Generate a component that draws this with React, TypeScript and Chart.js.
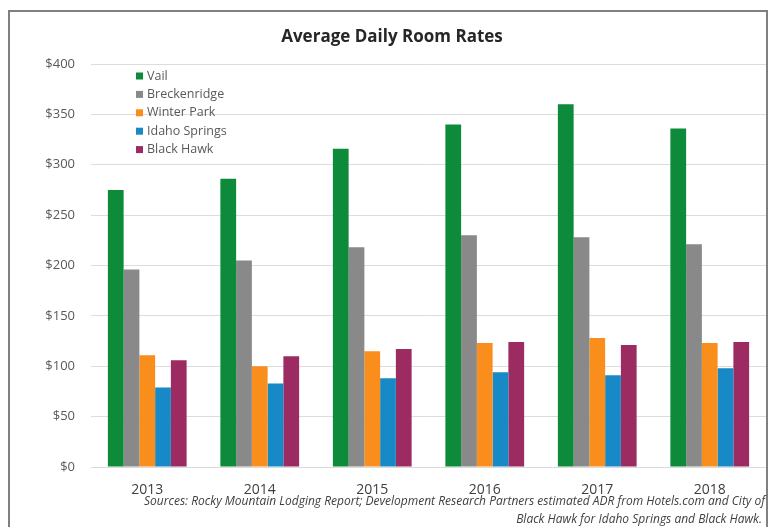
import React, { useEffect, useRef } from "react";
import { Chart, registerables } from "chart.js";

Chart.register(...registerables);

const years = ["2013", "2014", "2015", "2016", "2017", "2018"];
const vail = [275, 286, 316, 340, 360, 336];
const breckenridge = [196, 205, 218, 230, 228, 221];
const winterPark = [111, 100, 115, 123, 128, 123];
const idahoSprings = [79, 83, 88, 94, 91, 98];
const blackHawk = [106, 110, 117, 124, 121, 124];

const seriesNames = ["Vail", "Breckenridge", "Winter Park", "Idaho Springs", "Black Hawk"];
const seriesColors = ["#0E8A3B", "#898989", "#F98E1D", "#1789C6", "#9B2B61"];

const titleText = "Average Daily Room Rates";
const sourceLines = [
  "Sources: Rocky Mountain Lodging Report; Development Research Partners estimated ADR from Hotels.com and City of",
  "Black Hawk for Idaho Springs and Black Hawk.",
];

const FONT = "'Open Sans', 'DejaVu Sans', sans-serif";

const decorPlugin = {
  id: "decor",
  beforeDraw(chart: any) {
    const ctx = chart.ctx;
    ctx.save();
    ctx.fillStyle = "#ffffff";
    ctx.fillRect(0, 0, chart.width, chart.height);
    ctx.restore();
  },
  afterDraw(chart: any) {
    const ctx = chart.ctx;
    const area = chart.chartArea;
    ctx.save();
    // frame
    ctx.strokeStyle = "#808080";
    ctx.lineWidth = 2;
    ctx.strokeRect(9, 11, 758, 530);
    // title
    ctx.fillStyle = "#262626";
    ctx.font = `bold 17px ${FONT}`;
    ctx.textAlign = "center";
    ctx.textBaseline = "middle";
    ctx.fillText(titleText, 392, 37);
    // legend
    ctx.font = `12.5px ${FONT}`;
    ctx.textAlign = "left";
    chart.data.datasets.forEach((ds: any, i: number) => {
      const y = 76 + i * 18.4;
      ctx.fillStyle = ds.backgroundColor;
      ctx.fillRect(area.left + 45, y - 3.5, 7, 7);
      ctx.fillStyle = "#595959";
      ctx.fillText(ds.label, area.left + 56, y);
    });
    // sources
    ctx.font = `italic 12px ${FONT}`;
    ctx.fillStyle = "#404040";
    ctx.textAlign = "right";
    ctx.fillText(sourceLines[0], 765, 502, 636);
    ctx.fillText(sourceLines[1], 762, 520, 636);
    ctx.restore();
  },
};

export default function App() {
  const ref = useRef<HTMLCanvasElement | null>(null);
  useEffect(() => {
    if (!ref.current) return;
    const seriesData = [vail, breckenridge, winterPark, idahoSprings, blackHawk];
    const chart = new Chart(ref.current, {
      type: "bar",
      data: {
        labels: years,
        datasets: seriesNames.map((name, i) => ({
          label: name,
          data: seriesData[i],
          backgroundColor: seriesColors[i],
          borderWidth: 0,
          categoryPercentage: 0.7,
          barPercentage: 1.0,
        })),
      },
      options: {
        responsive: false,
        animation: false,
        layout: { padding: { left: 20, right: 12, top: 64, bottom: 0 } },
        plugins: {
          legend: { display: false },
          title: { display: false },
          tooltip: { enabled: false },
        },
        scales: {
          x: {
            grid: { display: false, drawTicks: false },
            border: { display: true, color: "#d9d9d9", width: 1 },
            ticks: {
              color: "#404040",
              font: { family: FONT, size: 14 },
              padding: 15,
            },
            afterFit(scale: any) {
              scale.height = 60;
            },
          },
          y: {
            min: 0,
            max: 400,
            grid: { color: "#dcdcdc", drawTicks: false },
            border: { display: false },
            ticks: {
              stepSize: 50,
              color: "#595959",
              font: { family: FONT, size: 13 },
              padding: 16,
              callback: (v: any) => "$" + v,
            },
            afterFit(scale: any) {
              scale.width = 71;
            },
          },
        },
      },
      plugins: [decorPlugin],
    });
    return () => chart.destroy();
  }, []);
  return (
    <div style={{ position: "absolute", left: 0, top: 0, width: 778, height: 527 }}>
      <canvas ref={ref} width={778} height={527} style={{ display: "block" }} />
    </div>
  );
}
